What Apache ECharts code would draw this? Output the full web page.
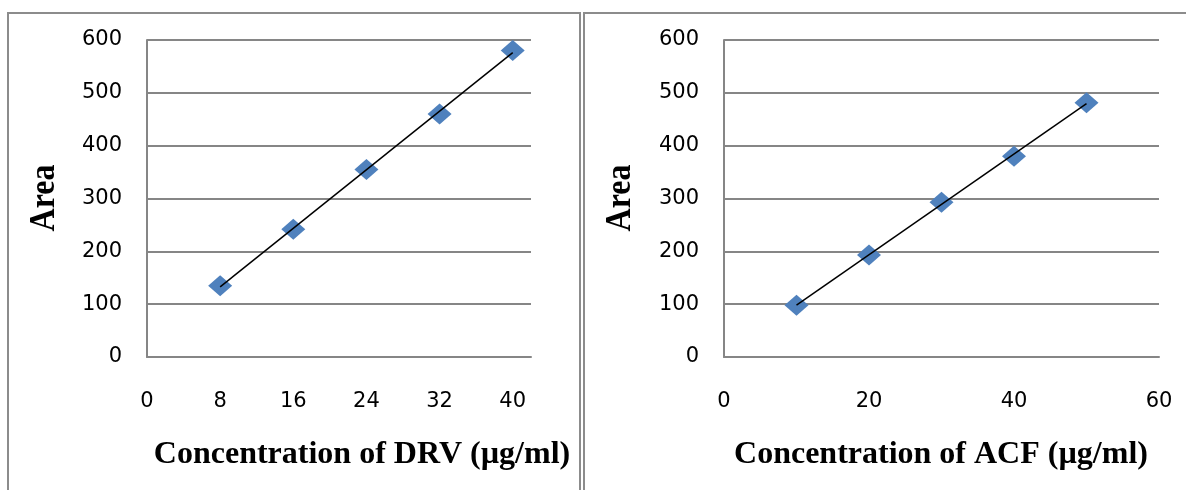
<!DOCTYPE html>
<html lang="en">
<head>
<meta charset="UTF-8">
<title>Calibration curves</title>
<script src="https://cdn.jsdelivr.net/npm/echarts@6/dist/echarts.min.js"></script>
<style>
  html, body { margin: 0; padding: 0; background: #fff; }
  #main { width: 1186px; height: 490px; }
</style>
</head>
<body>
<div id="main"></div>
<script>
// DRV calibration
var drvConc = [8, 16, 24, 32, 40];
var drvArea = [135, 242, 355, 460, 580];
// ACF calibration
var acfConc = [10, 20, 30, 40, 50];
var acfArea = [98, 193, 293, 380, 481];

// least squares trendline, evaluated at first/last x
function trend(xs, ys) {
  var n = xs.length, mx = 0, my = 0;
  for (var i = 0; i < n; i++) { mx += xs[i]; my += ys[i]; }
  mx /= n; my /= n;
  var sxy = 0, sxx = 0;
  for (var j = 0; j < n; j++) {
    sxy += (xs[j] - mx) * (ys[j] - my);
    sxx += (xs[j] - mx) * (xs[j] - mx);
  }
  var b = sxy / sxx, a = my - b * mx;
  var x0 = xs[0], x1 = xs[n - 1];
  return [[x0, a + b * x0], [x1, a + b * x1]];
}

function pairs(xs, ys) {
  return xs.map(function (x, i) { return [x, ys[i]]; });
}

var tickFont = { color: '#000', fontFamily: 'DejaVu Sans', fontSize: 21 };
var gridGray = '#868686';

function yAxis(idx) {
  return {
    type: 'value', gridIndex: idx, min: 0, max: 600, interval: 100,
    axisLine: { show: true, lineStyle: { color: gridGray, width: 2 } },
    axisTick: { show: false },
    splitLine: { lineStyle: { color: gridGray, width: 2 } },
    axisLabel: Object.assign({ margin: 25 }, tickFont)
  };
}

function titleText(x, y, txt) {
  return { type: 'text', x: x, y: y,
    style: { text: txt, fill: '#000', font: 'bold 32px "Liberation Serif"',
      textAlign: 'center', textVerticalAlign: 'middle' } };
}

function areaText(x) {
  return { type: 'text', x: x, y: 198, rotation: Math.PI / 2, scaleY: 1.1,
    style: { text: 'Area', fill: '#000', font: 'bold 32px "Liberation Serif"',
      textAlign: 'center', textVerticalAlign: 'middle' } };
}

var chart = echarts.init(document.getElementById('main'));
var option = {
  animation: false,
  backgroundColor: '#fff',
  grid: [
    { left: 147, right: 655, top: 40, bottom: 133 },
    { left: 724, right: 27, top: 40, bottom: 133 }
  ],
  xAxis: [
    {
      type: 'value', gridIndex: 0, min: 0, max: 42, interval: 8,
      axisLine: { lineStyle: { color: gridGray, width: 2 } },
      axisTick: { show: false }, splitLine: { show: false },
      axisLabel: Object.assign({
        margin: 34,
        formatter: function (v) { return v % 8 === 0 ? v : ''; }
      }, tickFont)
    },
    {
      type: 'value', gridIndex: 1, min: 0, max: 60, interval: 20,
      axisLine: { lineStyle: { color: gridGray, width: 2 } },
      axisTick: { show: false }, splitLine: { show: false },
      axisLabel: Object.assign({ margin: 34 }, tickFont)
    }
  ],
  yAxis: [yAxis(0), yAxis(1)],
  series: [
    {
      type: 'line', xAxisIndex: 0, yAxisIndex: 0,
      data: trend(drvConc, drvArea), symbol: 'none',
      lineStyle: { color: '#000', width: 1.5 }, z: 3
    },
    {
      type: 'scatter', xAxisIndex: 0, yAxisIndex: 0,
      data: pairs(drvConc, drvArea), symbol: 'diamond', symbolSize: [24, 21],
      itemStyle: { color: '#4f81bd', opacity: 1 }, z: 2
    },
    {
      type: 'line', xAxisIndex: 1, yAxisIndex: 1,
      data: trend(acfConc, acfArea), symbol: 'none',
      lineStyle: { color: '#000', width: 1.5 }, z: 3
    },
    {
      type: 'scatter', xAxisIndex: 1, yAxisIndex: 1,
      data: pairs(acfConc, acfArea), symbol: 'diamond', symbolSize: [24, 21],
      itemStyle: { color: '#4f81bd', opacity: 1 }, z: 2
    }
  ],
  graphic: [
    // chart area borders
    { type: 'rect', shape: { x: 8, y: 13, width: 572, height: 490 },
      style: { fill: 'none', stroke: '#8c8c8c', lineWidth: 2 }, z: -1 },
    { type: 'rect', shape: { x: 584, y: 13, width: 620, height: 490 },
      style: { fill: 'none', stroke: '#8c8c8c', lineWidth: 2 }, z: -1 },
    titleText(362, 455, 'Concentration of DRV (µg/ml)'),
    titleText(941, 455, 'Concentration of ACF (µg/ml)'),
    areaText(45),
    areaText(621)
  ]
};
chart.setOption(option);
</script>
</body>
</html>
